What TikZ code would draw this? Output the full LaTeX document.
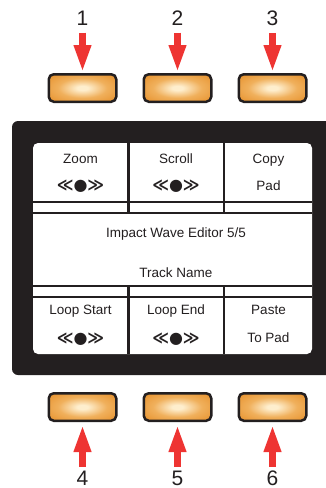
\documentclass[tikz,border=0pt]{standalone}
\usepackage{fontspec}
\setmainfont{Liberation Sans}
\newfontfamily\symfont{DejaVu Sans}
\usetikzlibrary{arrows.meta}
\definecolor{panelblack}{RGB}{35,31,32}
\definecolor{padorange}{RGB}{231,146,46}
\definecolor{padmid}{RGB}{240,176,92}
\definecolor{padcream}{RGB}{254,238,205}
\definecolor{arrowred}{RGB}{238,52,50}
\pgfdeclareradialshading{padglow}{\pgfpoint{0bp}{0bp}}{color(0bp)=(padcream); color(4bp)=(padcream); color(18bp)=(padmid); color(34bp)=(padorange); color(50bp)=(padorange)}
\newcommand{\jogsign}{{\symfont\bfseries ≪●≫}}

\begin{document}
\begin{tikzpicture}[x=1pt, y=-1pt,
    pad/.style={draw=panelblack, line width=2.5pt, rounded corners=5pt, shading=padglow, minimum width=67.5pt, minimum height=27.5pt},
    num/.style={anchor=base, inner sep=0pt, font=\fontsize{21}{21}\selectfont, text=panelblack},
    lbl/.style={anchor=base, inner sep=0pt, font=\fontsize{13.5}{16}\selectfont, text=panelblack},
    jog/.style={inner sep=0pt, font=\fontsize{16}{18}\selectfont, text=panelblack},
    push/.style={arrowred, line width=6.5pt, -{Triangle[width=16pt,length=27pt]}}]
    \useasboundingbox (0,0) rectangle (325,488);

    % controller panel and screen
    \fill[panelblack, rounded corners=6pt] (12,121) rectangle (340,375);
    \fill[white, rounded corners=5pt] (33,143) rectangle (312,354);
    \foreach \y in {202,213,286,297}
        \draw[panelblack, line width=2.5pt] (33,\y) -- (312,\y);
    \foreach \x in {128.5,224}
        \draw[panelblack, line width=2.5pt] (\x,143) -- (\x,213) (\x,286) -- (\x,354);

    % screen texts
    \node[lbl] (zoom) at (80.5,163) {Zoom};
    \node[jog] (zoomjog) at (80.5,186) {\jogsign};
    \node[lbl] (scroll) at (176,163) {Scroll};
    \node[jog] (scrolljog) at (176,186) {\jogsign};
    \node[lbl] (copy) at (268.5,163) {Copy};
    \node[lbl] (pad) at (268.5,190) {Pad};
    \node[lbl] (title) at (176,237) {Impact Wave Editor 5/5};
    \node[lbl] (track) at (176,277) {Track Name};
    \node[lbl] (loopstart) at (80.5,314) {Loop Start};
    \node[jog] (startjog) at (80.5,339) {\jogsign};
    \node[lbl] (loopend) at (176,314) {Loop End};
    \node[jog] (endjog) at (176,339) {\jogsign};
    \node[lbl] (paste) at (268.5,314) {Paste};
    \node[lbl] (topad) at (268.5,342) {To Pad};

    % pads
    \node[pad] (b1) at (82.5,88) {};
    \node[pad] (b2) at (177.5,88) {};
    \node[pad] (b3) at (272.5,88) {};
    \node[pad] (b4) at (82.5,407) {};
    \node[pad] (b5) at (177.5,407) {};
    \node[pad] (b6) at (272.5,407) {};

    % numbers and arrows
    \node[num] (n1) at (82.5,25.5) {1};
    \node[num] (n2) at (177.5,25.5) {2};
    \node[num] (n3) at (272.5,25.5) {3};
    \node[num] (n4) at (82.5,485) {4};
    \node[num] (n5) at (177.5,485) {5};
    \node[num] (n6) at (272.5,485) {6};
    \foreach \i in {1,2,3}
        \draw[push, shorten <=7pt, shorten >=1pt] (n\i) -- (b\i);
    \foreach \i in {4,5,6}
        \draw[push, shorten <=3.5pt, shorten >=3pt] (n\i) -- (b\i);
\end{tikzpicture}
\end{document}
